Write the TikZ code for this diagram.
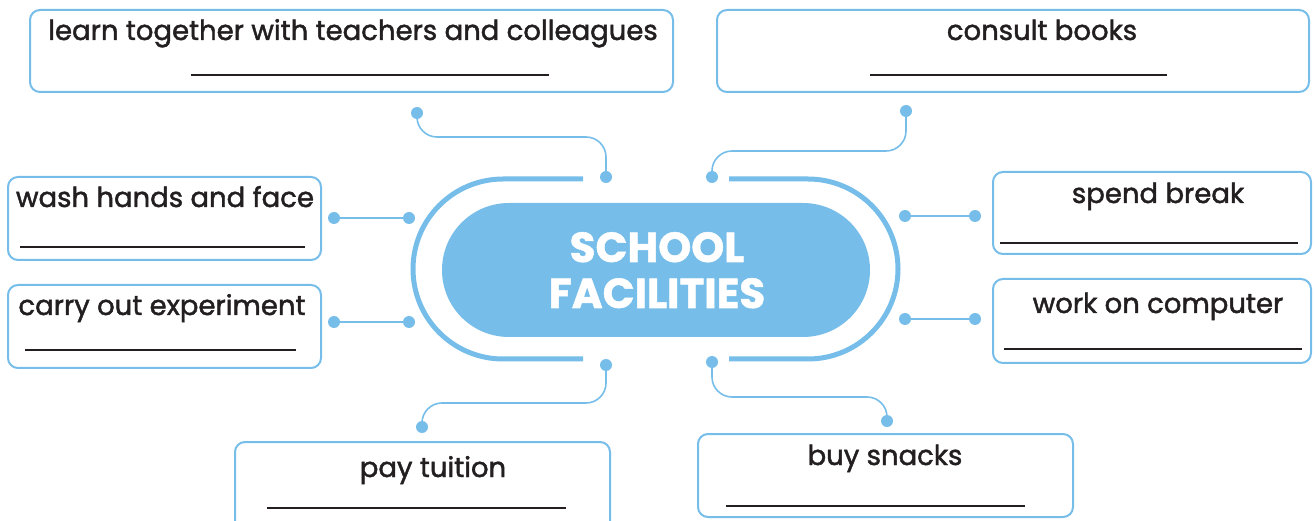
\documentclass[tikz,border=0pt]{standalone}
\usepackage{fontspec}
\setmainfont{Poppins}
\newfontfamily\bodyfont{Poppins}[FakeBold=1.6]
\newfontfamily\titlefont{Poppins Bold}[FakeBold=1.2]
\begin{document}
\begin{tikzpicture}[x=1pt,y=-1pt,
  every node/.style={inner sep=0pt,outer sep=0pt},
  box/.style={draw=sky,line width=2pt,rounded corners=10pt},
  lbl/.style={anchor=base,font=\bodyfont\fontsize{27.5}{32}\selectfont,text=ink},
  ttl/.style={anchor=base,font=\titlefont\fontsize{42}{46}\selectfont,text=white},
  blank/.style={draw=ink,line width=1.3pt},
  dot/.style={circle,fill=sky,minimum size=12pt},
  wire/.style={draw=sky,line width=1.6pt,rounded corners=20pt},
  ring/.style={draw=sky,line width=5pt}]
\definecolor{sky}{RGB}{118,190,233}
\definecolor{ink}{RGB}{35,31,32}
\useasboundingbox (0,0) rectangle (1315,521);
\clip (0,0) rectangle (1315,521);

% boxes
\node[box,minimum width=643pt,minimum height=82pt] (learn) at (351.5,51) {};
\node[box,minimum width=592pt,minimum height=82pt] (consult) at (1013,51) {};
\node[box,minimum width=313pt,minimum height=83pt] (wash) at (164.5,218.5) {};
\node[box,minimum width=313pt,minimum height=83pt] (carry) at (164.5,326.5) {};
\node[box,minimum width=318pt,minimum height=82pt] (spend) at (1152,213) {};
\node[box,minimum width=318pt,minimum height=84pt] (work) at (1152,321) {};
\node[box,minimum width=375pt,minimum height=100pt] (pay) at (422.5,492) {};
\node[box,minimum width=375pt,minimum height=83pt] (snacks) at (885.5,475.5) {};

% labels
\node[lbl] (tlearn) at (353,40) {learn together with teachers and colleagues};
\node[lbl] (tconsult) at (1042,40) {consult books};
\node[lbl] (twash) at (165,207) {wash hands and face};
\node[lbl] (tcarry) at (162,315) {carry out experiment};
\node[lbl] (tspend) at (1158,203) {spend break};
\node[lbl] (twork) at (1158,313) {work on computer};
\node[lbl] (tpay) at (433,477) {pay tuition};
\node[lbl] (tsnacks) at (885,465) {buy snacks};

% answer lines
\coordinate (a1) at (191,75); \coordinate (b1) at (549,75);
\coordinate (a2) at (870,75); \coordinate (b2) at (1167,75);
\coordinate (a3) at (20,247); \coordinate (b3) at (305,247);
\coordinate (a4) at (25,350); \coordinate (b4) at (296,350);
\coordinate (a5) at (1000,243); \coordinate (b5) at (1298,243);
\coordinate (a6) at (1004,349); \coordinate (b6) at (1302,349);
\coordinate (a7) at (267,508); \coordinate (b7) at (566,508);
\coordinate (a8) at (726,506); \coordinate (b8) at (1025,506);
\foreach \i in {1,...,8} {\draw[blank] (a\i) -- (b\i);}

% centre
\node[fill=sky,minimum width=428pt,minimum height=134pt,rounded corners=66.9pt] (hub) at (656,270) {};
\node[ttl] (t1) at (657,262) {SCHOOL};
\node[ttl] (t2) at (657,308) {FACILITIES};
\draw[ring] (583,179) -- (503,179) arc(-90:-270:90) -- (583,359);
\draw[ring] (729,179) -- (808,179) arc(-90:90:90) -- (729,359);

% dots
\node[dot] (d1) at (417,113) {};
\node[dot] (e1) at (606,177) {};
\node[dot] (d2) at (906,111) {};
\node[dot] (e2) at (712,177) {};
\node[dot] (d3) at (334,218) {};
\node[dot] (e3) at (409,218) {};
\node[dot] (d4) at (334,322) {};
\node[dot] (e4) at (409,322) {};
\node[dot] (d5) at (975,216) {};
\node[dot] (e5) at (905,216) {};
\node[dot] (d6) at (975,319) {};
\node[dot] (e6) at (905,319) {};
\node[dot] (d7) at (422,427) {};
\node[dot] (e7) at (606,365) {};
\node[dot] (d8) at (887,421) {};
\node[dot] (e8) at (712,362) {};

% wires
\draw[wire] (d1.center) -- (417,137) -- (606,137) -- (e1.center);
\draw[wire] (d2.center) -- (906,151) -- (712,151) -- (e2.center);
\draw[wire] (d3) -- (e3);
\draw[wire] (d4) -- (e4);
\draw[wire] (d5) -- (e5);
\draw[wire] (d6) -- (e6);
\draw[wire] (e7.center) -- (606,403) -- (422,403) -- (d7.center);
\draw[wire] (e8.center) -- (712,397) -- (887,397) -- (d8.center);
\end{tikzpicture}
\end{document}
